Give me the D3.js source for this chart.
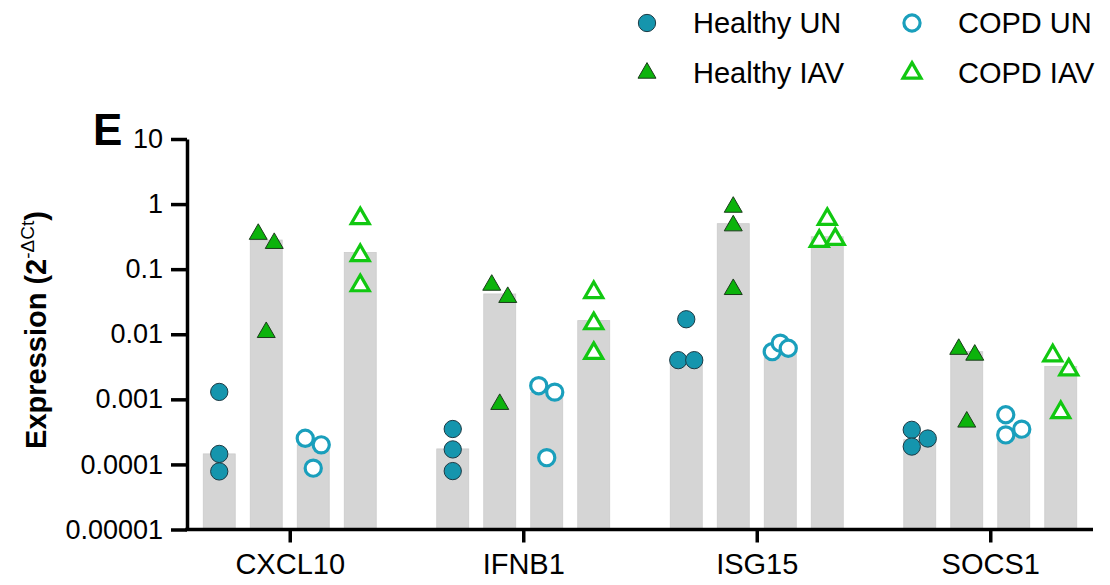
<!DOCTYPE html>
<html>
<head>
<meta charset="utf-8">
<script src="https://cdn.jsdelivr.net/npm/d3@7/dist/d3.min.js"></script>
<style>
  html, body { margin: 0; padding: 0; background: #fff; }
  svg { display: block; font-family: "Liberation Sans", Arial, sans-serif; }
</style>
</head>
<body>
<svg id="chart" width="1110" height="585"></svg>
<script>
// Genes on the x axis
const genes = ["CXCL10", "IFNB1", "ISG15", "SOCS1"];

// Groups (legend order and bar order within a gene)
const groups = ["Healthy UN", "Healthy IAV", "COPD UN", "COPD IAV"];

// Replicate expression values (2^-ΔCt), three donors per gene
const healthyUN = [
  [0.0013, 0.000145, 0.000078],
  [0.00035, 0.00017, 0.000079],
  [0.0040, 0.0040, 0.017],
  [0.00034, 0.000188, 0.00025]
];
const healthyIAV = [
  [0.345, 0.25, 0.0107],
  [0.057, 0.037, 0.00084],
  [0.90, 0.466, 0.049],
  [0.0059, 0.0048, 0.00045]
];
const copdUN = [
  [0.000252, 0.0002, 0.0000875],
  [0.00162, 0.00129, 0.000127],
  [0.0054, 0.0073, 0.0061],
  [0.00058, 0.000284, 0.000348]
];
const copdIAV = [
  [0.60, 0.163, 0.056],
  [0.044, 0.0146, 0.0051],
  [0.585, 0.27, 0.288],
  [0.0047, 0.00285, 0.00063]
];

// Bar heights (group summary per gene)
const barHealthyUN = [0.000145, 0.000173, 0.0036, 0.00024];
const barHealthyIAV = [0.28, 0.0416, 0.50, 0.0054];
const barCopdUN = [0.0002, 0.00129, 0.0058, 0.00033];
const barCopdIAV = [0.18, 0.0162, 0.315, 0.0032];

// Horizontal spread slot of each replicate (-1 left, 0 centre, 1 right)
const spreadHealthyUN = [[0, 0, 0], [0, 0, 0], [-1, 1, 0], [-1, -1, 1]];
const spreadHealthyIAV = [[-1, 1, 0], [-1, 1, 0], [0, 0, 0], [-1, 1, 0]];
const spreadCopdUN = [[-1, 1, 0], [-1, 1, 0], [-1, 0, 1], [-1, -1, 1]];
const spreadCopdIAV = [[0, 0, 0], [0, 0, 0], [0, -1, 1], [-1, 1, 0]];

// Y tick values and their labels
const yTicks = [1e-5, 1e-4, 1e-3, 1e-2, 1e-1, 1, 10];
const yTickLabels = ["0.00001", "0.0001", "0.001", "0.01", "0.1", "1", "10"];

const seriesValues = [healthyUN, healthyIAV, copdUN, copdIAV];
const seriesBars = [barHealthyUN, barHealthyIAV, barCopdUN, barCopdIAV];
const seriesSpread = [spreadHealthyUN, spreadHealthyIAV, spreadCopdUN, spreadCopdIAV];

// Marker styling per group
const styles = {
  "Healthy UN":  { shape: d3.symbolCircle,   size: 235, fill: "#1595ad", stroke: "#1c3a44", sw: 1 },
  "Healthy IAV": { shape: d3.symbolTriangle, size: 140, fill: "#0cb30c", stroke: "#1b3b1b", sw: 1 },
  "COPD UN":     { shape: d3.symbolCircle,   size: 205, fill: "#ffffff", stroke: "#1a9fbc", sw: 3.2 },
  "COPD IAV":    { shape: d3.symbolTriangle, size: 140, fill: "#ffffff", stroke: "#11c811", sw: 3.2 }
};

const svg = d3.select("#chart");
const plotLeft = 187, plotRight = 1093, plotTop = 139, plotBottom = 529.5;

const x = d3.scalePoint().domain(genes).range([plotLeft, plotRight]).padding(0.44);
const sub = d3.scaleBand().domain(groups).range([-94, 94]).paddingInner(0.32).paddingOuter(0.16);
const y = d3.scaleLog().domain([1e-5, 10]).range([plotBottom, plotTop]);
const spreadStep = 8;

// Bars
const barData = [];
groups.forEach((g, gi) => genes.forEach((gene, ci) => barData.push({ g, gene, v: seriesBars[gi][ci] })));
svg.append("g").selectAll("rect").data(barData).join("rect")
  .attr("x", d => x(d.gene) + sub(d.g))
  .attr("width", sub.bandwidth())
  .attr("y", d => y(d.v))
  .attr("height", d => y(1e-5) - y(d.v))
  .attr("fill", "#d5d5d5")
  .attr("stroke", "#cbcbcb")
  .attr("stroke-width", 0.8);

// Replicate points
const pts = [];
groups.forEach((g, gi) => genes.forEach((gene, ci) => {
  seriesValues[gi][ci].forEach((v, ri) => pts.push({ g, gene, v, s: seriesSpread[gi][ci][ri] }));
}));
svg.append("g").selectAll("path").data(pts).join("path")
  .attr("transform", d => `translate(${x(d.gene) + sub(d.g) + sub.bandwidth() / 2 + d.s * spreadStep},${y(d.v)})`)
  .attr("d", d => d3.symbol(styles[d.g].shape, styles[d.g].size)())
  .attr("fill", d => styles[d.g].fill)
  .attr("stroke", d => styles[d.g].stroke)
  .attr("stroke-width", d => styles[d.g].sw)
  .attr("stroke-linejoin", "miter");

// Y axis
const yAxis = svg.append("g").attr("transform", `translate(${plotLeft},0)`)
  .call(d3.axisLeft(y).tickValues(yTicks).tickFormat((d, i) => yTickLabels[i])
    .tickSize(16).tickSizeOuter(0).tickPadding(8));
yAxis.select(".domain").attr("stroke", "#000").attr("stroke-width", 3.5);
yAxis.selectAll(".tick line").attr("stroke", "#000").attr("stroke-width", 3.5);
yAxis.selectAll(".tick text").attr("fill", "#000").attr("font-size", 27)
  .attr("font-family", "Liberation Sans, Arial, sans-serif");

// X axis
const xAxis = svg.append("g").attr("transform", `translate(0,${plotBottom})`)
  .call(d3.axisBottom(x).tickSize(13).tickSizeOuter(0).tickPadding(11));
xAxis.select(".domain").attr("stroke", "#000").attr("stroke-width", 3.5)
  .attr("d", `M${plotLeft - 1.75},0H${plotRight}`);
xAxis.selectAll(".tick line").attr("stroke", "#000").attr("stroke-width", 3.5);
xAxis.selectAll(".tick text").attr("fill", "#000").attr("font-size", 29)
  .attr("font-family", "Liberation Sans, Arial, sans-serif");

// Y axis title
const yTitle = svg.append("text")
  .attr("transform", `translate(46,330) rotate(-90)`)
  .attr("text-anchor", "middle")
  .attr("font-size", 29)
  .attr("font-weight", "bold")
  .attr("fill", "#000");
yTitle.append("tspan").text("Expression (2");
yTitle.append("tspan").text("-ΔCt").attr("font-size", 19).attr("font-weight", "normal").attr("dy", -12);
yTitle.append("tspan").text(")").attr("dy", 12);

// Panel letter
svg.append("text").attr("x", 93).attr("y", 145)
  .attr("font-size", 44).attr("font-weight", "bold").attr("fill", "#000").text("E");

// Legend (two columns, two rows)
const legendPos = [[647, 23], [647, 73], [912, 23], [912, 73]];
const legend = svg.append("g").selectAll("g").data(groups).join("g")
  .attr("transform", (d, i) => `translate(${legendPos[i][0]},${legendPos[i][1]})`);
legend.append("path")
  .attr("d", d => d3.symbol(styles[d].shape, styles[d].size)())
  .attr("fill", d => styles[d].fill)
  .attr("stroke", d => styles[d].stroke)
  .attr("stroke-width", d => styles[d].sw);
legend.append("text").attr("x", 46).attr("dy", "0.36em")
  .attr("font-size", 29).attr("fill", "#000").text(d => d);
</script>
</body>
</html>
